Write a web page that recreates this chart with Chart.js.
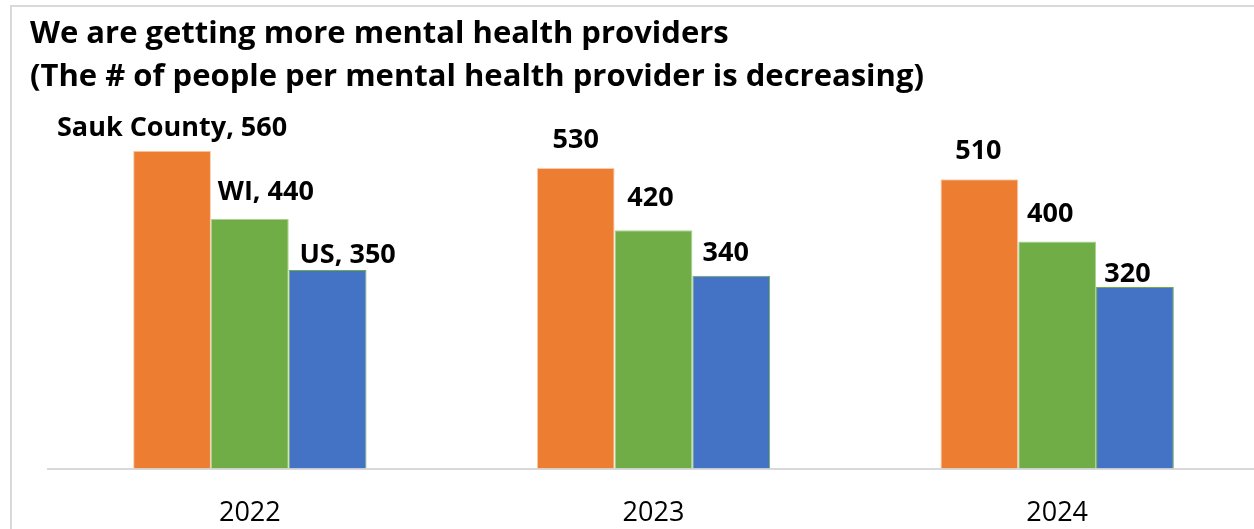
<!DOCTYPE html>
<html>
<head>
<meta charset="utf-8">
<script src="https://cdn.jsdelivr.net/npm/chart.js@4/dist/chart.umd.min.js"></script>
<style>
  html, body { margin: 0; padding: 0; background: #ffffff; overflow: hidden; }
  #wrap { position: absolute; left: 0; top: 0; width: 1260px; height: 529px; }
  #frame { position: absolute; left: 10px; top: 5px; right: -20px; bottom: -20px;
           border-left: 2px solid #d9d9d9; border-top: 2px solid #d9d9d9; pointer-events: none; }
</style>
</head>
<body>
<div id="wrap">
  <canvas id="chart" width="1260" height="529"></canvas>
  <div id="frame"></div>
</div>
<script>
// ---- data ----
const years = ['2022', '2023', '2024'];
const seriesNames = ['Sauk County', 'WI', 'US'];
const saukCounty = [560, 530, 510];
const wisconsin = [440, 420, 400];
const unitedStates = [350, 340, 320];
const titleLines = [
  'We are getting more mental health providers',
  '(The # of people per mental health provider is decreasing)'
];

// ---- label placement: nudge of each value label from its bar's top centre (dx, dy of cap centre) ----
const labelNudge = [
  [[0, -25], [0, -29.5], [-1, -29.5]],
  [[16, -29], [-3, -34], [-7, -29]],
  [[20, -17], [-5.5, -24], [-7.5, -15]]
];

const FONT = '"Open Sans", Lato, sans-serif';

const valueLabels = {
  id: 'valueLabels',
  afterDatasetsDraw(chart) {
    const ctx = chart.ctx;
    const size = 27;
    ctx.save();
    ctx.font = `bold ${size}px ${FONT}`;
    ctx.fillStyle = '#000000';
    ctx.textAlign = 'center';
    ctx.textBaseline = 'alphabetic';
    chart.data.datasets.forEach((ds, i) => {
      const meta = chart.getDatasetMeta(i);
      meta.data.forEach((bar, j) => {
        const v = ds.data[j];
        const text = j === 0 ? `${seriesNames[i]}, ${v}` : `${v}`;
        const [dx, dy] = labelNudge[i][j];
        const capHalf = size * 0.714 / 2;
        ctx.fillText(text, bar.x + dx, bar.y + dy + capHalf);
      });
    });
    ctx.restore();
  }
};

new Chart(document.getElementById('chart'), {
  type: 'bar',
  data: {
    labels: years,
    datasets: [
      { label: seriesNames[0], data: saukCounty, backgroundColor: '#ED7D31', borderColor: '#F8CBAD', borderWidth: 1 },
      { label: seriesNames[1], data: wisconsin, backgroundColor: '#70AD47', borderColor: '#A9D18E', borderWidth: 1 },
      { label: seriesNames[2], data: unitedStates, backgroundColor: '#4472C4', borderColor: '#70AD47', borderWidth: 1 }
    ]
  },
  options: {
    responsive: false,
    animation: false,
    devicePixelRatio: 1,
    categoryPercentage: 0.578,
    barPercentage: 1,
    layout: { padding: { left: 30, right: 1, top: 0, bottom: 0 } },
    plugins: {
      legend: { display: false },
      tooltip: { enabled: false },
      title: {
        display: true,
        text: titleLines,
        align: 'start',
        color: '#000000',
        font: { family: FONT, size: 31, weight: 'bold', lineHeight: 1.39 },
        padding: { top: 12.5, bottom: 29.5 }
      }
    },
    scales: {
      x: {
        grid: { display: false },
        border: { display: true, color: '#d9d9d9', width: 2 },
        ticks: { color: '#000000', font: { family: FONT, size: 27 }, padding: 21 },
        afterFit(scale) { scale.height = 60.5; }
      },
      y: {
        min: 0,
        max: 600,
        grid: { display: false },
        border: { display: false },
        ticks: { display: false },
        afterFit(scale) { scale.width = 18; }
      }
    }
  },
  plugins: [valueLabels]
});
</script>
</body>
</html>
